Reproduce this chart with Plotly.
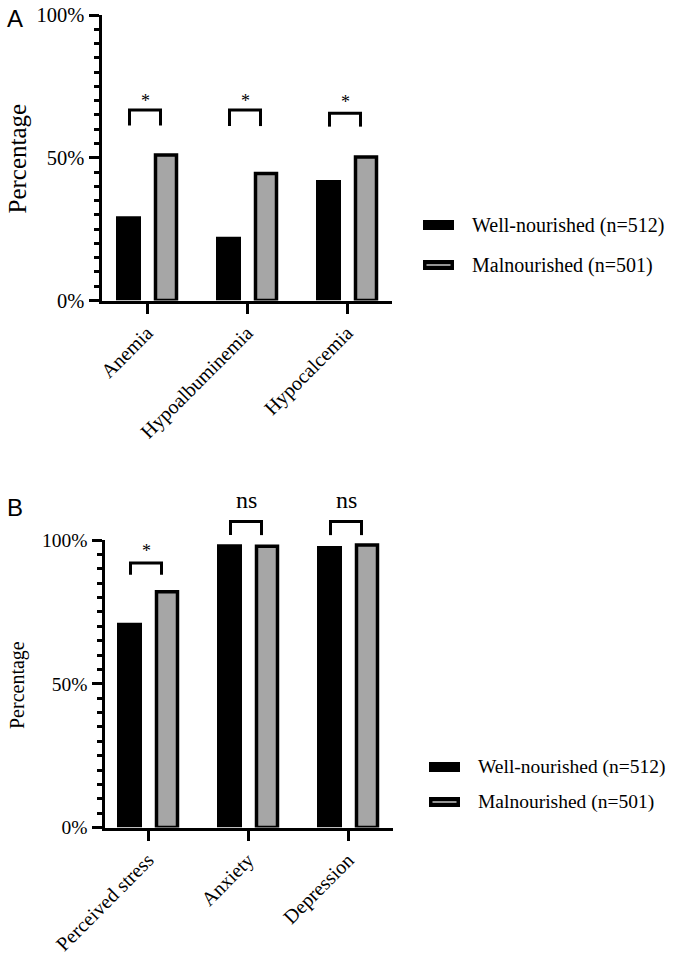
import plotly.graph_objects as go

# ---------------- data ----------------
categories_a = ["Anemia", "Hypoalbuminemia", "Hypocalcemia"]
well_a = [29.5, 22.3, 42.2]
mal_a = [51.0, 44.5, 50.3]
sig_a = ["*", "*", "*"]
bracket_top_a = [66.7, 66.7, 65.6]
bracket_leg_a = [61.3, 61.1, 60.9]
sig_y_a = [71.0, 71.0, 70.6]

categories_b = ["Perceived stress", "Anxiety", "Depression"]
well_b = [71.2, 98.5, 97.9]
mal_b = [82.0, 97.8, 98.3]
sig_b = ["*", "ns", "ns"]
bracket_top_b = [92.0, 106.4, 106.4]
bracket_leg_b = [87.9, 101.7, 101.7]
sig_y_b = [97.1, 113.8, 113.8]

legend_labels = ["Well-nourished (n=512)", "Malnourished (n=501)"]
y_ticks = [0, 50, 100]
y_tick_labels = ["0%", "50%", "100%"]
minor_ticks = [v for v in range(5, 100, 5) if v != 50]
Y_MAX = 100

# ---------------- style ----------------
W, H = 676, 966
BLACK = "#000000"
GRAY = "#a6a6a6"
SERIF = "Liberation Serif"
SANS = "Liberation Sans"


def px(x):
    return x / W


def py(y):
    return 1 - y / H


fig = go.Figure()

panels = [
    dict(cats=categories_a, well=well_a, mal=mal_a, sig=sig_a, btop=bracket_top_a,
         bleg=bracket_leg_a, sy=sig_y_a, xa="x", ya="y"),
    dict(cats=categories_b, well=well_b, mal=mal_b, sig=sig_b, btop=bracket_top_b,
         bleg=bracket_leg_b, sy=sig_y_b, xa="x2", ya="y2"),
]

for p in panels:
    fig.add_trace(go.Bar(
        x=p["cats"], y=p["well"], name=legend_labels[0], xaxis=p["xa"], yaxis=p["ya"],
        marker=dict(color=BLACK, line=dict(width=0)), width=0.25, offset=-0.31,
        showlegend=False, hoverinfo="x+y"))
    fig.add_trace(go.Bar(
        x=p["cats"], y=p["mal"], name=legend_labels[1], xaxis=p["xa"], yaxis=p["ya"],
        marker=dict(color=GRAY, line=dict(color=BLACK, width=3.5)), width=0.21, offset=0.085,
        showlegend=False, hoverinfo="x+y"))

shapes = []
annotations = []
BL, BR = -0.175, 0.135
for p in panels:
    dom = p["ya"] + " domain"
    for i, c in enumerate(p["cats"]):
        top = p["btop"][i] / Y_MAX
        leg = p["bleg"][i] / Y_MAX
        shapes.append(dict(type="line", xref=p["xa"], yref=dom, x0=i + BL, x1=i + BL,
                           y0=leg, y1=top, line=dict(color=BLACK, width=3)))
        shapes.append(dict(type="line", xref=p["xa"], yref=dom, x0=i + BL - 0.015, x1=i + BR + 0.015,
                           y0=top, y1=top, line=dict(color=BLACK, width=3)))
        shapes.append(dict(type="line", xref=p["xa"], yref=dom, x0=i + BR, x1=i + BR,
                           y0=leg, y1=top, line=dict(color=BLACK, width=3)))
        s = p["sig"][i]
        annotations.append(dict(
            text=s, x=i + (BL + BR) / 2, y=p["sy"][i] / Y_MAX, xref=p["xa"], yref=dom,
            showarrow=False, xanchor="center", yanchor="middle",
            font=dict(family=SERIF, size=(18 if s == "*" else 24), color=BLACK),
            yshift=(-3 if s == "*" else 0)))

# Panel letters
annotations.append(dict(text="A", x=px(15), y=py(18), xref="paper", yref="paper", showarrow=False,
                        xanchor="center", yanchor="middle", font=dict(family=SANS, size=24, color=BLACK)))
annotations.append(dict(text="B", x=px(15), y=py(508), xref="paper", yref="paper", showarrow=False,
                        xanchor="center", yanchor="middle", font=dict(family=SANS, size=24, color=BLACK)))

# Y-axis titles
annotations.append(dict(text="Percentage", x=px(17), y=py(158.5), xref="paper", yref="paper",
                        showarrow=False, textangle=-90, xanchor="center", yanchor="middle",
                        font=dict(family=SERIF, size=25, color=BLACK)))
annotations.append(dict(text="Percentage", x=px(17), y=py(685), xref="paper", yref="paper",
                        showarrow=False, textangle=-90, xanchor="center", yanchor="middle",
                        font=dict(family=SERIF, size=20, color=BLACK)))

# Custom legends
legend_specs = [
    dict(x0=423, x1=454, ys=[225, 265], tx=470, size=20),
    dict(x0=429, x1=460, ys=[767, 802], tx=476, size=19.5),
]
for lg in legend_specs:
    for k, lab in enumerate(legend_labels):
        yc = lg["ys"][k]
        shapes.append(dict(type="rect", xref="paper", yref="paper",
                           x0=px(lg["x0"]), x1=px(lg["x1"]), y0=py(yc + 5), y1=py(yc - 5),
                           fillcolor=BLACK, line=dict(width=0)))
        if k == 1:
            shapes.append(dict(type="line", xref="paper", yref="paper",
                               x0=px(lg["x0"] + 3.5), x1=px(lg["x1"] - 3.5), y0=py(yc), y1=py(yc),
                               line=dict(color=GRAY, width=1.8)))
        annotations.append(dict(text=lab, x=px(lg["tx"]), y=py(yc), xref="paper", yref="paper",
                                showarrow=False, xanchor="left", yanchor="middle",
                                font=dict(family=SERIF, size=lg["size"], color=BLACK)))

common_y = dict(
    range=[0, Y_MAX], tickmode="array", tickvals=y_ticks, ticktext=y_tick_labels,
    showline=True, linecolor=BLACK, linewidth=3, ticks="outside", ticklen=10, tickwidth=3,
    tickcolor=BLACK, showgrid=False, zeroline=False, fixedrange=True, automargin=False,
    minor=dict(tickmode="array", tickvals=minor_ticks, ticks="outside", ticklen=5,
               tickwidth=3, tickcolor=BLACK, showgrid=False),
)
common_x = dict(
    type="category", showline=True, linecolor=BLACK, linewidth=3, ticks="outside", ticklen=10,
    tickwidth=3, tickcolor=BLACK, showgrid=False, zeroline=False, tickangle=-45, fixedrange=True,
    automargin=False, tickfont=dict(family=SERIF, size=20, color=BLACK),
)

fig.update_layout(
    width=W, height=H, margin=dict(l=0, r=0, t=0, b=0, autoexpand=False),
    paper_bgcolor="white", plot_bgcolor="white", barmode="overlay", showlegend=False,
    xaxis=dict(common_x, domain=[px(101.5), px(392)], range=[-0.455, 2.45], anchor="y"),
    yaxis=dict(common_y, domain=[py(300.5), py(15)], anchor="x",
               tickfont=dict(family=SERIF, size=20.5, color=BLACK)),
    xaxis2=dict(common_x, domain=[px(104.5), px(393)], range=[-0.435, 2.45], anchor="y2"),
    yaxis2=dict(common_y, domain=[py(827.5), py(540)], anchor="x2",
                tickfont=dict(family=SERIF, size=19.5, color=BLACK)),
    shapes=shapes, annotations=annotations,
)

fig.write_html(
    "out.html",
    config={"displayModeBar": False},
    post_script="document.body.style.margin='0';document.body.style.overflow='hidden';",
)
